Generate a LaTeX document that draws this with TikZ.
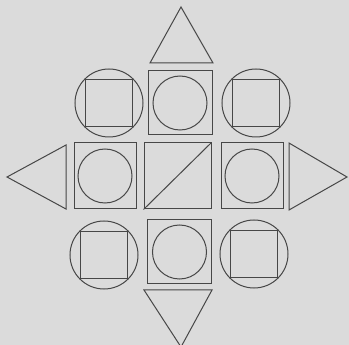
\documentclass[tikz,border=0pt]{standalone}
\usepackage{tikz}

\begin{document}
\begin{tikzpicture}[x=1pt, y=-1pt, line width=1pt,
      frame/.style={rectangle, draw=black!72, minimum size=64pt, inner sep=0pt},
      disc/.style={circle, draw=black!72, minimum size=54pt, inner sep=0pt},
      bigdisc/.style={circle, draw=black!72, minimum size=68pt, inner sep=0pt},
      inbox/.style={rectangle, draw=black!72, minimum size=47pt, inner sep=0pt},
      tri/.style={draw=black!72, line join=miter}]
    \fill[black!14] (0,0) rectangle (349,345);
    \useasboundingbox (0,0) rectangle (349,345);
    % top row
    \node[bigdisc] (tlc) at (109,103) {};
    \node[inbox] (tls) at (tlc.center) {};
    \node[frame] (tcs) at (180,103) {};
    \node[disc] (tcc) at (tcs.center) {};
    \node[bigdisc] (trc) at (256,103) {};
    \node[inbox] (trs) at (trc.center) {};
    % middle row
    \node[frame, minimum width=62pt, minimum height=66pt] (mls) at (105,176) {};
    \node[disc] (mlc) at (mls.center) {};
    \node[frame, minimum width=67pt, minimum height=66pt] (mcs) at (177.5,176) {};
    \node[frame, minimum width=62pt, minimum height=66pt] (mrs) at (252,176) {};
    \node[disc] (mrc) at (mrs.center) {};
    \draw[draw=black!72] (mcs.south west) -- (mcs.north east);
    % bottom row
    \node[bigdisc] (blc) at (104,255) {};
    \node[inbox] (bls) at (blc.center) {};
    \node[frame] (bcs) at (179.5,252) {};
    \node[disc] (bcc) at (bcs.center) {};
    \node[bigdisc] (brc) at (254,254) {};
    \node[inbox] (brs) at (brc.center) {};
    % triangles
    \draw[tri] (181,7) -- (213,63) -- (150,63) -- cycle;
    \draw[tri] (7,177) -- (66,145) -- (66,209) -- cycle;
    \draw[tri] (347,177) -- (289,143) -- (289,210) -- cycle;
    \draw[tri] (181,347) -- (144,290) -- (212,290) -- cycle;
  \end{tikzpicture}
\end{document}
